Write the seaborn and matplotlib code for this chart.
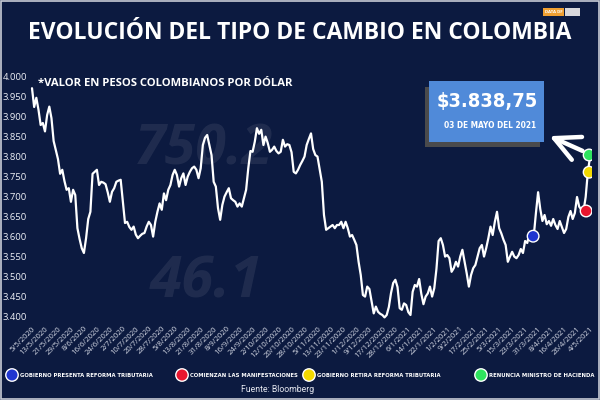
import matplotlib
matplotlib.use("Agg")
import matplotlib.pyplot as plt
import numpy as np
import pandas as pd
import seaborn as sns
from matplotlib.patches import Rectangle
from matplotlib import font_manager as fm

# ---------------- data ----------------
tipo_cambio = [
    3972, 3925, 3948, 3918, 3880, 3885, 3864, 3905, 3926, 3897,
    3840, 3818, 3795, 3758, 3768, 3740, 3718, 3722, 3688, 3718,
    3705, 3622, 3595, 3572, 3560, 3597, 3645, 3663, 3758, 3763,
    3768, 3730, 3738, 3736, 3732, 3712, 3688, 3713, 3722, 3738,
    3741, 3743, 3688, 3635, 3638, 3625, 3618, 3626, 3606, 3597,
    3603, 3608, 3610, 3626, 3638, 3630, 3601, 3638, 3663, 3684,
    3668, 3709, 3692, 3718, 3730, 3755, 3768, 3755, 3726, 3747,
    3759, 3730, 3751, 3763, 3772, 3776, 3768, 3747, 3772, 3830,
    3848, 3855, 3830, 3805, 3738, 3726, 3672, 3643, 3680, 3701,
    3712, 3722, 3697, 3692, 3688, 3676, 3684, 3676, 3697, 3718,
    3772, 3815, 3813, 3838, 3872, 3858, 3868, 3830, 3851, 3835,
    3813, 3818, 3826, 3815, 3809, 3813, 3843, 3826, 3832, 3830,
    3812, 3763, 3759, 3768, 3780, 3790, 3801, 3830, 3845, 3859,
    3820, 3805, 3801, 3770, 3738, 3655, 3618, 3622, 3626, 3630,
    3622, 3630, 3630, 3638, 3622, 3638, 3622, 3601, 3605, 3593,
    3580, 3538, 3505, 3455, 3451, 3476, 3470, 3440, 3409, 3426,
    3413, 3408, 3405, 3399, 3405, 3425, 3460, 3485, 3493, 3475,
    3422, 3418, 3434, 3430, 3412, 3405, 3463, 3480, 3476, 3495,
    3458, 3432, 3451, 3459, 3476, 3451, 3472, 3520, 3590, 3597,
    3580, 3551, 3555, 3547, 3513, 3522, 3538, 3526, 3551, 3568,
    3538, 3509, 3476, 3505, 3522, 3530, 3551, 3572, 3580, 3551,
    3572, 3597, 3626, 3605, 3638, 3663, 3622, 3609, 3593, 3580,
    3538, 3551, 3563, 3551, 3547, 3555, 3570, 3560, 3590, 3585,
    3610, 3600, 3603, 3660, 3712, 3670, 3640, 3655, 3632, 3640,
    3628, 3645, 3630, 3620, 3640, 3625, 3610, 3620, 3650, 3665,
    3645, 3660, 3700, 3676, 3668, 3665, 3700, 3762, 3800,
]

etiquetas_fecha = [
    "5/5/2020", "13/5/2020", "21/5/2020", "29/5/2020", "8/6/2020", "16/6/2020",
    "24/6/2020", "2/7/2020", "10/7/2020", "20/7/2020", "28/7/2020", "5/8/2020",
    "13/8/2020", "21/8/2020", "31/8/2020", "8/9/2020", "16/9/2020", "24/9/2020",
    "2/10/2020", "12/10/2020", "20/10/2020", "28/10/2020", "5/11/2020", "13/11/2020",
    "23/11/2020", "1/12/2020", "9/12/2020", "17/12/2020", "28/12/2020", "6/1/2021",
    "14/1/2021", "22/1/2021", "1/2/2021", "9/2/2021", "17/2/2021", "25/2/2021",
    "5/3/2021", "15/3/2021", "23/3/2021", "31/3/2021", "8/4/2021", "16/4/2021",
    "26/4/2021", "4/5/2021",
]

eventos = [
    "GOBIERNO PRESENTA REFORMA TRIBUTARIA",
    "COMIENZAN LAS MANIFESTACIONES",
    "GOBIERNO RETIRA REFORMA TRIBUTARIA",
    "RENUNCIA MINISTRO DE HACIENDA",
]
evento_idx = [231.7, 256.2, 257.6, 257.6]
evento_valor = [3602, 3665, 3762, 3805]
evento_color = ["#1f35d0", "#e8152e", "#f2d900", "#2ee35e"]

y_ticks = list(range(3400, 4001, 50))

# ---------------- style ----------------
BG = "#0c1a40"
sns.set_theme(style="dark")
plt.rcParams["font.family"] = ["Open Sans", "DejaVu Sans"]


def find_condensed_bold():
    prefs = ["liberationsansnarrow-bold", "dejavusanscondensed-bold",
             "notosans-condensedbold", "robotocondensed-bold",
             "opensans-condensedbold", "opensans_condensed-bold"]
    files = [f.fname for f in fm.fontManager.ttflist]
    low = {f.lower().split("/")[-1]: f for f in files}
    for p in prefs:
        for k, v in low.items():
            if k.startswith(p) and "italic" not in k and "oblique" not in k:
                return fm.FontProperties(fname=v)
    for k, v in low.items():
        if ("narrow" in k or "condensed" in k) and "bold" in k \
                and "italic" not in k and "oblique" not in k:
            return fm.FontProperties(fname=v)
    return fm.FontProperties(family="Roboto", weight="bold")


COND = find_condensed_bold()

fig = plt.figure(figsize=(6, 4), dpi=100, facecolor=BG)
renderer = fig.canvas.get_renderer()


def fit_size(t, target_px):
    bb = t.get_window_extent(renderer)
    return t.get_fontsize() * target_px / max(bb.width, 1)


# faint background numerals (decorative photo)
for txt, x, y, fs in [("750.2", 135, 150, 40), ("46.1", 150, 282, 42)]:
    fig.text(x / 600, 1 - y / 400, txt, fontsize=fs, color="white", alpha=0.08,
             ha="left", va="center", weight="bold", style="italic", zorder=0)

ax = fig.add_axes([30 / 600, 1 - 321 / 400, 562 / 600, 246 / 400])
ax.set_facecolor("none")

df = pd.DataFrame({"idx": np.arange(len(tipo_cambio)), "valor": tipo_cambio})
sns.lineplot(data=df, x="idx", y="valor", ax=ax, color="white", linewidth=1.6,
             zorder=3)

sns.scatterplot(x=evento_idx, y=evento_valor, ax=ax, hue=eventos,
                palette=evento_color, s=70, edgecolor="white", linewidth=1.0,
                legend=False, zorder=5)

ax.set_xlim(-0.925, 258.925)
ax.set_ylim(3390, 4005)
ax.set_xticks(range(0, 6 * len(etiquetas_fecha), 6))
ax.set_xticklabels(etiquetas_fecha, rotation=45, ha="right",
                   rotation_mode="anchor", fontsize=5.6, color="#d4d8e4")
ax.set_yticks(y_ticks)
ax.set_yticklabels([f"{v:,}".replace(",", ".") for v in y_ticks],
                   fontsize=6.8, color="#eef0f6")
ax.tick_params(axis="both", length=0)
ax.tick_params(axis="y", pad=2)
ax.tick_params(axis="x", pad=3)
ax.set_xlabel("")
ax.set_ylabel("")
ax.grid(False)
for s in ax.spines.values():
    s.set_visible(False)

# ---------------- texts ----------------
fig.text(0.5, 1 - 33 / 400, "EVOLUCIÓN DEL TIPO DE CAMBIO EN COLOMBIA",
         ha="center", va="center", fontsize=16.5, weight="bold", color="white")
fig.text(38 / 600, 1 - 83 / 400, "*VALOR EN PESOS COLOMBIANOS POR DÓLAR",
         ha="left", va="center", fontsize=8.1, weight="bold", color="white")

# overlay axes in pixel units for annotations
ov = fig.add_axes([0, 0, 1, 1], facecolor="none")
ov.set_xlim(0, 600)
ov.set_ylim(400, 0)
ov.axis("off")

# callout box
ov.add_patch(Rectangle((425, 87), 115, 60, facecolor="#4a4a4c",
                       edgecolor="none", zorder=6))
ov.add_patch(Rectangle((429, 81), 115, 61, facecolor="#508ad9",
                       edgecolor="none", zorder=7))
t_val = ov.text(487.5, 101, "$3.838,75", ha="center", va="center",
                fontproperties=COND, fontsize=15, color="white", zorder=8)
t_val.set_fontsize(min(fit_size(t_val, 101), 21))
t_date = ov.text(490, 125, "03 DE MAYO DEL 2021", ha="center", va="center",
                 fontproperties=COND, fontsize=7, color="white", zorder=8)
t_date.set_fontsize(min(fit_size(t_date, 92), 8.5))

ov.annotate("", xy=(547, 135), xytext=(585, 152),
            arrowprops=dict(arrowstyle="->,head_length=0.9,head_width=0.45",
                            mutation_scale=20, color="white", lw=3.2),
            zorder=8)

# legend
leg_x = [12, 182, 309, 481]
leg_w = [152, 112, 155, 106]
ov.scatter(leg_x, [375] * 4, s=80, c=evento_color, edgecolors="white",
           linewidths=1.0, zorder=5)
leg_texts = [ov.text(xx + 8, 375.5, lab, ha="left", va="center",
                     fontproperties=COND, fontsize=6, color="white")
             for xx, lab in zip(leg_x, eventos)]
leg_size = min(7.0, min(fit_size(t, w) for t, w in zip(leg_texts, leg_w)))
for t in leg_texts:
    t.set_fontsize(leg_size)

ov.text(278, 390, "Fuente: Bloomberg", ha="center", va="center",
        fontsize=6.2, color="#e6e8f0", family=["Roboto"])

# logo
ov.add_patch(Rectangle((543, 8), 21, 8, facecolor="#f0a032", edgecolor="none"))
ov.add_patch(Rectangle((565, 8), 15, 8, facecolor="#d8d8dc", edgecolor="none"))
ov.text(553.5, 12, "DATA DF", ha="center", va="center", fontsize=3.2,
        weight="bold", color="white")

# thin frame
fig.add_artist(Rectangle((0.002, 0.003), 0.996, 0.994, transform=fig.transFigure,
                         facecolor="none", edgecolor="#c9ccd6", lw=1.2))

fig.savefig("out.png", dpi=100, facecolor=BG)
